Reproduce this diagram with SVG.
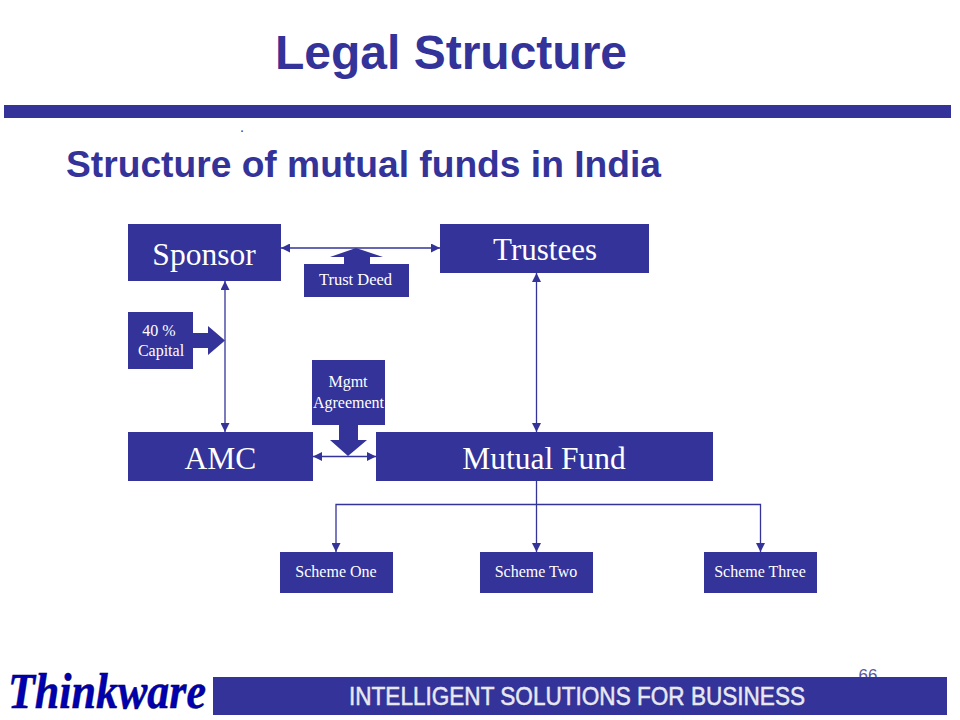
<svg xmlns="http://www.w3.org/2000/svg" width="960" height="720" viewBox="0 0 960 720">
<defs>
<marker id="a" viewBox="0 0 9 9" refX="9" refY="4.500" markerWidth="9" markerHeight="9" orient="auto-start-reverse" markerUnits="userSpaceOnUse"><path d="M0 0L9 4.500L0 9Z" fill="#333399"/></marker>
</defs>
<style>
.b{fill:#333399}
.t{font-family:"Liberation Serif",serif;fill:#fff;text-anchor:middle}
.h{font-family:"Liberation Sans",Arial,sans-serif;font-weight:bold;fill:#333399}
.l{fill:none;stroke:#333399;stroke-width:1.300}
</style>
<rect width="960" height="720" fill="#fff"/>
<text class="h" x="451" y="69" font-size="48" text-anchor="middle">Legal Structure</text>
<rect class="b" x="4" y="105" width="947" height="13"/>
<text x="242" y="132" font-size="14" font-family="Liberation Serif,serif" fill="#333399" text-anchor="middle">.</text>
<text class="h" x="66" y="177" font-size="37.200">Structure of mutual funds in India</text>
<g id="connectors">
<path class="l" d="M281 248H440" marker-start="url(#a)" marker-end="url(#a)"/>
<path class="l" d="M225 281V432" marker-start="url(#a)" marker-end="url(#a)"/>
<path class="l" d="M536.500 273V432" marker-start="url(#a)" marker-end="url(#a)"/>
<path class="l" d="M313 456.500H376" marker-start="url(#a)" marker-end="url(#a)"/>
<path class="l" d="M536.500 481V552" marker-end="url(#a)"/>
<path class="l" d="M336 552V504.500H760.500V552" marker-start="url(#a)" marker-end="url(#a)"/>
</g>
<g id="sponsor"><rect class="b" x="128" y="224" width="153" height="57"/><text class="t" x="204" y="265" font-size="31.500">Sponsor</text></g>
<g id="trustees"><rect class="b" x="440" y="224" width="209" height="49"/><text class="t" x="545" y="260" font-size="31">Trustees</text></g>
<g id="trust-deed"><path class="b" d="M330 257L356 248L383 257H370V264H344V257Z"/><rect class="b" x="304" y="264" width="105" height="33"/><text class="t" x="355.500" y="285" font-size="16.500">Trust Deed</text></g>
<g id="capital"><rect class="b" x="128" y="312" width="65" height="57"/><path class="b" d="M193 333H208V326L225 340.500L208 355V348H193Z"/><text class="t" x="159" y="336" font-size="16">40 %</text><text class="t" x="161" y="356" font-size="16">Capital</text></g>
<g id="mgmt-agreement"><rect class="b" x="312" y="360" width="73" height="65"/><path class="b" d="M339 425H358V440H367L348 456L330 440H339Z"/><text class="t" x="348" y="387" font-size="16">Mgmt</text><text class="t" x="348.500" y="408" font-size="16">Agreement</text></g>
<g id="amc"><rect class="b" x="128" y="432" width="185" height="49"/><text class="t" x="220.500" y="469" font-size="31.500">AMC</text></g>
<g id="mutual-fund"><rect class="b" x="376" y="432" width="337" height="49"/><text class="t" x="544" y="469" font-size="31.500">Mutual Fund</text></g>
<g id="scheme-one"><rect class="b" x="280" y="552" width="113" height="41"/><text class="t" x="336" y="577" font-size="16">Scheme One</text></g>
<g id="scheme-two"><rect class="b" x="480" y="552" width="113" height="41"/><text class="t" x="536" y="577" font-size="16">Scheme Two</text></g>
<g id="scheme-three"><rect class="b" x="704" y="552" width="113" height="41"/><text class="t" x="760" y="577" font-size="16">Scheme Three</text></g>
<text x="868" y="681" font-size="17" font-family="Liberation Sans,sans-serif" fill="#5a5a9a" text-anchor="middle">66</text>
<g id="footer">
<rect class="b" x="213" y="677" width="734" height="38"/>
<text x="577" y="705" font-size="25" font-family="Liberation Sans,sans-serif" fill="#e8e8f0" stroke="#e8e8f0" stroke-width="0.500" text-anchor="middle" textLength="456" lengthAdjust="spacingAndGlyphs">INTELLIGENT SOLUTIONS FOR BUSINESS</text>
<text x="8" y="708" font-size="50" font-style="italic" font-weight="bold" font-family="Liberation Serif,serif" fill="#0000b0" stroke="#000050" stroke-width="0.500" textLength="198" lengthAdjust="spacingAndGlyphs">Thinkware</text>
</g>
</svg>
